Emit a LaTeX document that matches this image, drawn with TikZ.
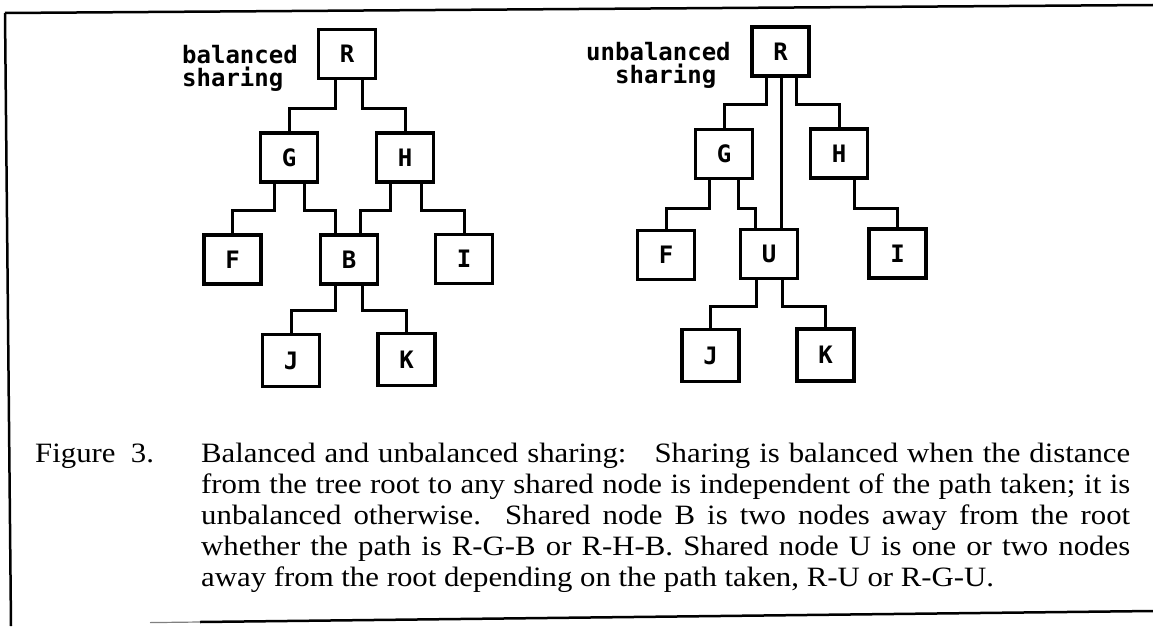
\documentclass[tikz,border=0pt]{standalone}
\usepackage{fontspec}
\setmainfont[FakeStretch=1.1]{Liberation Serif}
\newfontfamily\monofont{DejaVu Sans Mono}
\begin{document}
\begin{tikzpicture}[x=1pt,y=-1pt,
  tbox/.style={draw, line width=3.2pt, minimum width=57pt, minimum height=49pt, inner sep=0pt,
    font=\monofont\bfseries\fontsize{24}{24}\selectfont},
  tall/.style={minimum height=52pt},
  conn/.style={line width=3pt, line join=miter},
  frameline/.style={line width=2.5pt},
  lbl/.style={font=\monofont\bfseries\fontsize{24}{23}\selectfont, align=left, inner sep=0pt, anchor=north west},
  capline/.style={font=\fontsize{28}{31.2}\selectfont, inner sep=0pt, anchor=base west}]
\useasboundingbox (0,0) rectangle (1153,626);

% frame
\draw[frameline] (5,13) -- (1153,5);
\draw[frameline] (5,13) -- (11,626);
\draw[frameline] (200,622) -- (1153,611);
\draw[line width=1.2pt, gray] (150,622.6) -- (200,622);

% left tree
\node[tbox] (LR) at (347,54) {R};
\node[tbox] (LG) at (289,157.5) {G};
\node[tbox] (LH) at (405,157.5) {H};
\node[tbox] (LF) at (232.5,259.5) {F};
\node[tbox] (LB) at (349,259.5) {B};
\node[tbox] (LI) at (464,259) {I};
\node[tbox,tall] (LJ) at (291,360.5) {J};
\node[tbox,tall] (LK) at (406.5,359.5) {K};
\node[lbl] (ltitle) at (182,45) {balanced\\sharing};

\draw[conn] ([xshift=-12pt]LR.south) -- ++(0,28.5) -| (LG.north);
\draw[conn] ([xshift=15pt]LR.south) -- ++(0,28.5) -| (LH.north);
\draw[conn] ([xshift=-15pt]LG.south) -- ++(0,27) -| (LF.north);
\draw[conn] ([xshift=15pt]LG.south) -- ++(0,27) -| ([xshift=-14pt]LB.north);
\draw[conn] ([xshift=-15pt]LH.south) -- ++(0,27) -| ([xshift=11pt]LB.north);
\draw[conn] ([xshift=16pt]LH.south) -- ++(0,27) -| (LI.north);
\draw[conn] ([xshift=-14pt]LB.south) -- ++(0,25) -| (LJ.north);
\draw[conn] ([xshift=13pt]LB.south) -- ++(0,25) -| (LK.north);

% right tree
\node[tbox] (RR) at (780.5,51.5) {R};
\node[tbox] (RG) at (724,154) {G};
\node[tbox] (RH) at (839,153.5) {H};
\node[tbox] (RF) at (666,255) {F};
\node[tbox] (RU) at (769,254) {U};
\node[tbox] (RI) at (897.5,253.5) {I};
\node[tbox,tall] (RJ) at (710.5,355.5) {J};
\node[tbox,tall] (RK) at (825.5,355) {K};
\node[lbl] (rtitle) at (586,42) {unbalanced\\\phantom{un}sharing};

\draw[conn] ([xshift=-14.5pt]RR.south) -- ++(0,27) -| (RG.north);
\draw[conn] ([xshift=0.5pt]RR.south) -- ([xshift=12pt]RU.north);
\draw[conn] ([xshift=15.5pt]RR.south) -- ++(0,27) -| (RH.north);
\draw[conn] ([xshift=-15pt]RG.south) -- ++(0,28.5) -| (RF.north);
\draw[conn] ([xshift=14pt]RG.south) -- ++(0,28.5) -| ([xshift=-14pt]RU.north);
\draw[conn] ([xshift=15pt]RH.south) -- ++(0,29) -| (RI.north);
\draw[conn] ([xshift=-13pt]RU.south) -- ++(0,26.5) -| (RJ.north);
\draw[conn] ([xshift=13pt]RU.south) -- ++(0,26.5) -| (RK.north);

% caption
\node[capline] (fig) at (35,462) {Figure\ \ 3.};
\node[capline] (cap) at (201,462) {\vtop{%
  \hbox to 929pt{Balanced and unbalanced sharing:\quad Sharing is balanced when the distance}
  \hbox to 929pt{from the tree root to any shared node is independent of the path taken; it is}
  \hbox to 929pt{unbalanced otherwise.\ \ Shared node B is two nodes away from the root}
  \hbox to 929pt{whether the path is R-G-B or R-H-B. Shared node U is one or two nodes}
  \hbox{away from the root depending on the path taken, R-U or R-G-U.}}};
\end{tikzpicture}
\end{document}
